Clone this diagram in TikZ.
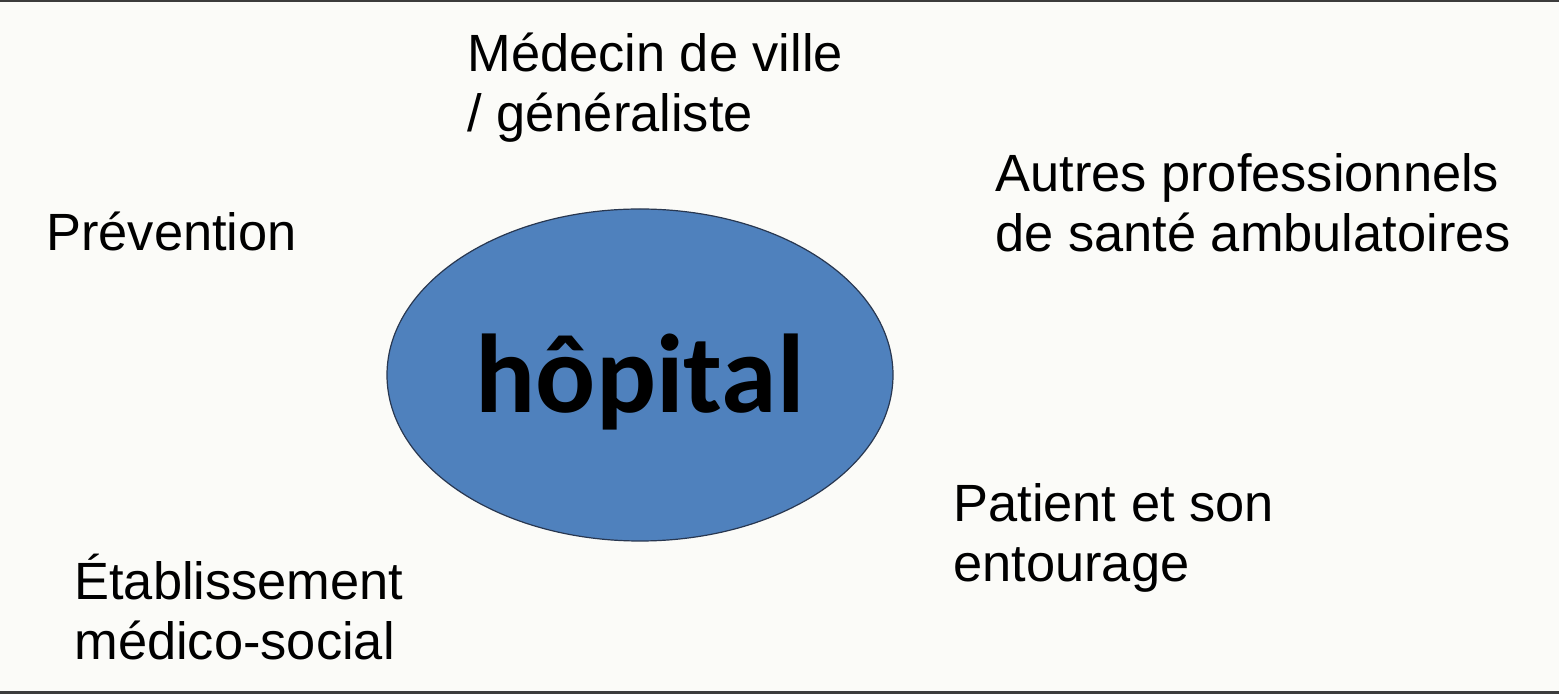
\documentclass[tikz,border=0pt]{standalone}
\usepackage{fontspec}
\usetikzlibrary{shapes.geometric}
\setmainfont{Liberation Sans}
\newfontfamily\calib{Carlito}
\definecolor{bgc}{RGB}{251,251,248}
\definecolor{framec}{RGB}{60,60,60}
\definecolor{hosp}{RGB}{79,129,189}
\definecolor{hospline}{RGB}{40,55,80}
\tikzset{
  lbl/.style={anchor=base west, inner sep=0pt, align=left, font=\fontsize{26.2pt}{30pt}\selectfont, text=black},
}
\begin{document}
\begin{tikzpicture}[x=0.5pt,y=-0.5pt]
\fill[bgc] (0,0) rectangle (1559,694);
\useasboundingbox (0,0) rectangle (1559,694);
\fill[framec] (0,0) rectangle (1559,2.5);
\fill[framec] (0,691.5) rectangle (1559,694);
\node[ellipse, draw=hospline, line width=0.6pt, fill=hosp, minimum width=253pt, minimum height=166pt, inner sep=0pt] (hop) at (640,375) {};
\node[anchor=base, inner sep=0pt, font=\calib\bfseries\fontsize{56pt}{60pt}\selectfont] (hoptext) at (640,413) {hôpital};
% anchors at the baseline of the last line
\node[lbl] (medecin) at (467,132) {Médecin de ville\\/ généraliste};
\node[lbl] (autres) at (995,252) {Autres professionnels\\de santé ambulatoires};
\node[lbl] (prev) at (46,251) {Prévention};
\node[lbl] (patient) at (953,582) {Patient et son\\entourage};
\node[lbl] (etab) at (74,660) {Établissement\\médico-social};
\end{tikzpicture}
\end{document}
